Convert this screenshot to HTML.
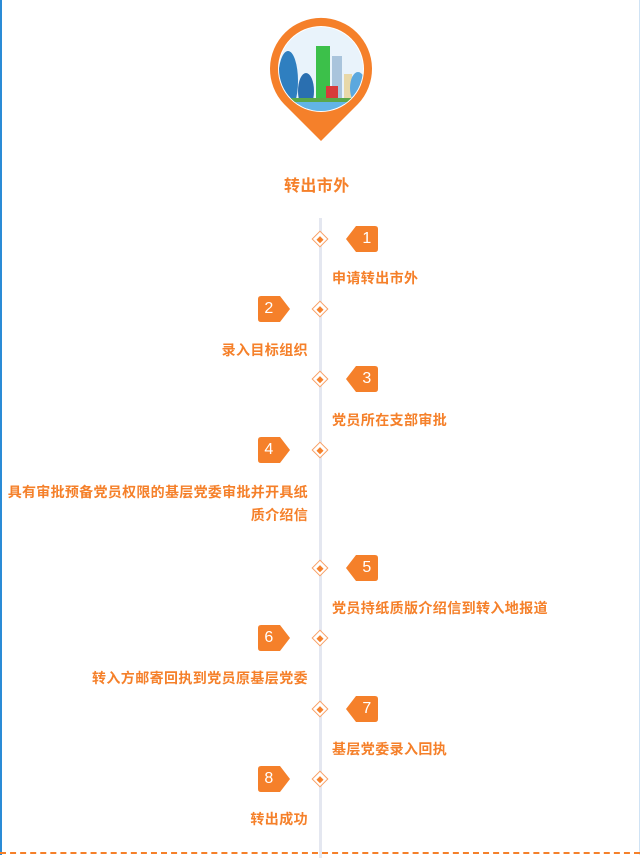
<!DOCTYPE html>
<html><head><meta charset="utf-8"><style>
html,body{margin:0;padding:0}
body{width:640px;height:855px;position:relative;background:#fff;overflow:hidden;font-family:"Liberation Sans","Noto Sans CJK SC",sans-serif}
.lb{position:absolute;left:0;top:0;width:2px;height:855px;background:#2a8bd6}
.rb{position:absolute;right:0;top:0;width:1px;height:855px;background:#cfe3f5}
.bb{position:absolute;left:0;top:852px;width:640px;border-top:2px dashed #f5802a}
.vl{position:absolute;left:319px;top:218px;width:3px;height:640px;background:#e4e7f0}
.dm{position:absolute;width:10px;height:10px;border:1.5px solid #f8a066;background:#fff;transform:rotate(45deg)}
.dm:after{content:"";position:absolute;left:2.5px;top:2.5px;width:5px;height:5px;background:#f5802a}
.t{position:absolute;color:#f5802a;font-weight:bold;font-size:14px;white-space:nowrap;letter-spacing:0.4px}
.r{text-align:right}
.bd{position:absolute;width:32px;height:26px}
</style></head><body>
<div class="lb"></div><div class="rb"></div><div class="bb"></div>
<svg style="position:absolute;left:266px;top:16px" width="110" height="130" viewBox="0 0 110 130">
<defs><clipPath id="c"><circle cx="55" cy="53" r="42"/></clipPath></defs>
<path d="M55 125 L18 88 A51 51 0 1 1 92 88 Z" fill="#f5802a"/>
<circle cx="55" cy="53" r="43" fill="#fff"/>
<g clip-path="url(#c)">
<rect x="0" y="0" width="110" height="110" fill="#e9f3fb"/>
<ellipse cx="22" cy="65" rx="10" ry="30" fill="#2f7fc0"/>
<ellipse cx="40" cy="75" rx="8" ry="18" fill="#2a6fb0"/>
<rect x="50" y="30" width="14" height="55" fill="#3cc04a"/>
<rect x="66" y="40" width="10" height="45" fill="#a9c4dc"/>
<rect x="78" y="58" width="8" height="28" fill="#e8d8a8"/>
<ellipse cx="92" cy="72" rx="8" ry="16" fill="#5ba8de"/>
<rect x="60" y="70" width="12" height="12" fill="#d83a3a"/>
<rect x="0" y="82" width="110" height="6" fill="#5aa84a"/>
<rect x="0" y="86" width="110" height="20" fill="#62b4e6"/>
</g>
</svg>
<div class="t" style="left:284px;top:172px;font-size:16px">转出市外</div>
<div class="vl"></div>

<div class="dm" style="left:314px;top:233px"></div>
<div class="dm" style="left:314px;top:303px"></div>
<div class="dm" style="left:314px;top:373px"></div>
<div class="dm" style="left:314px;top:444px"></div>
<div class="dm" style="left:314px;top:562px"></div>
<div class="dm" style="left:314px;top:632px"></div>
<div class="dm" style="left:314px;top:703px"></div>
<div class="dm" style="left:314px;top:773px"></div>

<svg class="bd" style="left:346px;top:226px" viewBox="0 0 32 26"><path d="M10 0 H29 Q32 0 32 3 V23 Q32 26 29 26 H10 L0 13 Z" fill="#f5802a"/></svg><div class="t" style="left:356px;top:226px;width:22px;text-align:center;color:#fff;font-weight:normal;font-size:16px;line-height:26px">1</div>
<svg class="bd" style="left:258px;top:296px" viewBox="0 0 32 26"><path d="M3 0 H22 L32 13 L22 26 H3 Q0 26 0 23 V3 Q0 0 3 0 Z" fill="#f5802a"/></svg><div class="t" style="left:258px;top:296px;width:22px;text-align:center;color:#fff;font-weight:normal;font-size:16px;line-height:26px">2</div>
<svg class="bd" style="left:346px;top:366px" viewBox="0 0 32 26"><path d="M10 0 H29 Q32 0 32 3 V23 Q32 26 29 26 H10 L0 13 Z" fill="#f5802a"/></svg><div class="t" style="left:356px;top:366px;width:22px;text-align:center;color:#fff;font-weight:normal;font-size:16px;line-height:26px">3</div>
<svg class="bd" style="left:258px;top:437px" viewBox="0 0 32 26"><path d="M3 0 H22 L32 13 L22 26 H3 Q0 26 0 23 V3 Q0 0 3 0 Z" fill="#f5802a"/></svg><div class="t" style="left:258px;top:437px;width:22px;text-align:center;color:#fff;font-weight:normal;font-size:16px;line-height:26px">4</div>
<svg class="bd" style="left:346px;top:555px" viewBox="0 0 32 26"><path d="M10 0 H29 Q32 0 32 3 V23 Q32 26 29 26 H10 L0 13 Z" fill="#f5802a"/></svg><div class="t" style="left:356px;top:555px;width:22px;text-align:center;color:#fff;font-weight:normal;font-size:16px;line-height:26px">5</div>
<svg class="bd" style="left:258px;top:625px" viewBox="0 0 32 26"><path d="M3 0 H22 L32 13 L22 26 H3 Q0 26 0 23 V3 Q0 0 3 0 Z" fill="#f5802a"/></svg><div class="t" style="left:258px;top:625px;width:22px;text-align:center;color:#fff;font-weight:normal;font-size:16px;line-height:26px">6</div>
<svg class="bd" style="left:346px;top:696px" viewBox="0 0 32 26"><path d="M10 0 H29 Q32 0 32 3 V23 Q32 26 29 26 H10 L0 13 Z" fill="#f5802a"/></svg><div class="t" style="left:356px;top:696px;width:22px;text-align:center;color:#fff;font-weight:normal;font-size:16px;line-height:26px">7</div>
<svg class="bd" style="left:258px;top:766px" viewBox="0 0 32 26"><path d="M3 0 H22 L32 13 L22 26 H3 Q0 26 0 23 V3 Q0 0 3 0 Z" fill="#f5802a"/></svg><div class="t" style="left:258px;top:766px;width:22px;text-align:center;color:#fff;font-weight:normal;font-size:16px;line-height:26px">8</div>

<div class="t" style="left:332px;top:268px">申请转出市外</div>
<div class="t r" style="right:332px;top:340px">录入目标组织</div>
<div class="t" style="left:332px;top:410px">党员所在支部审批</div>
<div class="t r" style="right:332px;top:481px;line-height:23px;letter-spacing:0.3px">具有审批预备党员权限的基层党委审批并开具纸<br>质介绍信</div>
<div class="t" style="left:332px;top:598px">党员持纸质版介绍信到转入地报道</div>
<div class="t r" style="right:332px;top:668px">转入方邮寄回执到党员原基层党委</div>
<div class="t" style="left:332px;top:739px">基层党委录入回执</div>
<div class="t r" style="right:332px;top:809px">转出成功</div>
</body></html>
